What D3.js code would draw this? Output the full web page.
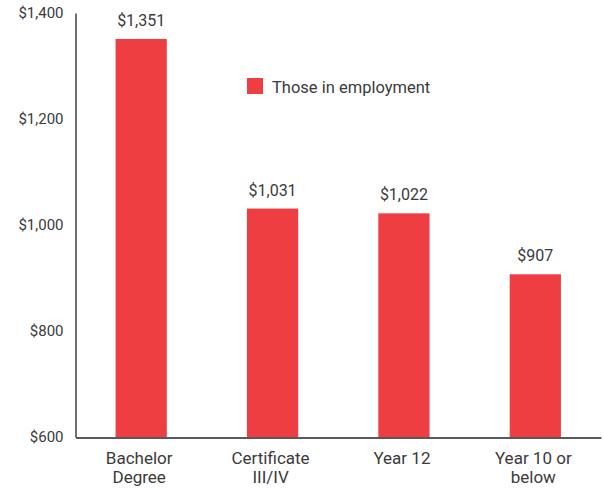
<!DOCTYPE html>
<html>
<head>
<meta charset="utf-8">
<script src="https://cdn.jsdelivr.net/npm/d3@7"></script>
<style>
  body { margin: 0; background: #fff; }
  text { font-family: Roboto, "Open Sans", sans-serif; fill: #3a3a3a; }
</style>
</head>
<body>
<script>
const categories = [["Bachelor", "Degree"], ["Certificate", "III/IV"], ["Year 12"], ["Year 10 or", "below"]];
const values = [1351, 1031, 1022, 907];
const yTicks = [600, 800, 1000, 1200, 1400];
const seriesName = "Those in employment";

const w = 603, h = 488;
const color = "#ef3e42";

const svg = d3.select("body").append("svg")
  .attr("width", w)
  .attr("height", h);

const x = d3.scaleBand()
  .domain(d3.range(categories.length))
  .range([75.5, 601])
  .paddingInner(0.61)
  .paddingOuter(0.305);

const y = d3.scaleLinear()
  .domain([600, 1400])
  .range([437, 13]);

const fmt = d => "$" + d3.format(",")(d);

// bars
svg.selectAll("rect.bar")
  .data(values)
  .enter()
  .append("rect")
  .attr("class", "bar")
  .attr("x", (d, i) => x(i))
  .attr("y", d => y(d))
  .attr("width", x.bandwidth())
  .attr("height", d => y(600) - y(d))
  .attr("fill", color);

// value labels
svg.selectAll("text.val")
  .data(values)
  .enter()
  .append("text")
  .attr("class", "val")
  .attr("x", (d, i) => x(i) + x.bandwidth() / 2)
  .attr("y", d => y(d) - 13)
  .attr("text-anchor", "middle")
  .style("font-size", "16px")
  .text(fmt);

// y axis
const yAxis = svg.append("g")
  .attr("transform", "translate(75.5,0)")
  .call(d3.axisLeft(y).tickValues(yTicks).tickFormat(fmt).tickSize(0).tickPadding(12));
yAxis.select(".domain").attr("stroke", "#222").attr("stroke-width", 1.3);
yAxis.selectAll("text").style("font-size", "15px").attr("fill", "#3a3a3a");

// x axis
const xAxis = svg.append("g")
  .attr("transform", "translate(0,437.5)")
  .call(d3.axisBottom(x).tickSize(0).tickFormat(""));
xAxis.select(".domain").attr("stroke", "#222").attr("stroke-width", 1.3);

svg.selectAll("text.cat")
  .data(categories)
  .enter()
  .append("text")
  .attr("class", "cat")
  .attr("text-anchor", "middle")
  .style("font-size", "17px")
  .attr("x", (d, i) => x(i) + x.bandwidth() / 2 - 2)
  .attr("y", 464)
  .each(function(d) {
    const t = d3.select(this);
    const cx = t.attr("x");
    d.forEach((line, k) => {
      t.append("tspan").attr("x", cx).attr("dy", k === 0 ? 0 : 19).text(line);
    });
  });

// legend
const legend = svg.append("g").attr("transform", "translate(247,78)");
legend.append("rect").attr("width", 16).attr("height", 16).attr("fill", color);
legend.append("text").attr("x", 25).attr("y", 15).style("font-size", "16.5px").text(seriesName);
</script>
</body>
</html>
